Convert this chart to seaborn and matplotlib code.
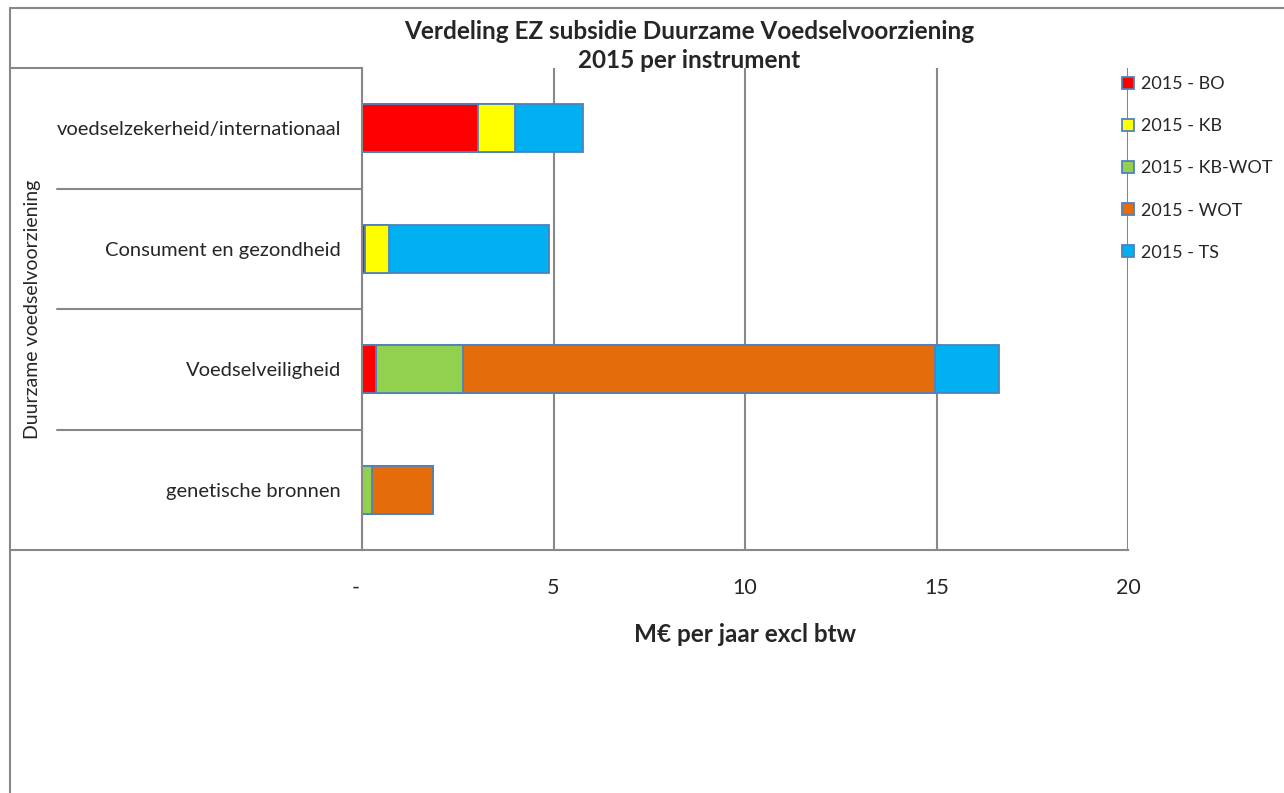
import matplotlib
matplotlib.use("Agg")
import matplotlib.pyplot as plt
import matplotlib.transforms as mtrans
import seaborn as sns
import pandas as pd
import numpy as np
from matplotlib.patches import Patch
from matplotlib.lines import Line2D

# ---- data ----
categories = ["voedselzekerheid/internationaal", "Consument en gezondheid",
              "Voedselveiligheid", "genetische bronnen"]
series_names = ["2015 - BO", "2015 - KB", "2015 - KB-WOT", "2015 - WOT", "2015 - TS"]
bo     = [3.03, 0.09, 0.37, 0.00]
kb     = [0.97, 0.61, 0.00, 0.00]
kb_wot = [0.00, 0.00, 2.27, 0.26]
wot    = [0.00, 0.00, 12.32, 1.60]
ts     = [1.77, 4.19, 1.68, 0.00]
colors = ["#FF0000", "#FFFF00", "#92D050", "#E46C0A", "#00B0F0"]
xticks = [0, 5, 10, 15, 20]
xticklabels = ["-", "5", "10", "15", "20"]

title = "Verdeling EZ subsidie Duurzame Voedselvoorziening\n2015 per instrument"
xlabel = "M\u20ac per jaar excl btw"
outer_label = "Duurzame voedselvoorziening"

df = pd.DataFrame({"cat": categories, series_names[0]: bo, series_names[1]: kb,
                   series_names[2]: kb_wot, series_names[3]: wot, series_names[4]: ts})
cum = df[series_names].cumsum(axis=1)
cum["cat"] = df["cat"]

sns.set_style("white")
plt.rcParams["font.family"] = ["Lato", "DejaVu Sans"]

W, H = 1284, 793
fig = plt.figure(figsize=(W / 100, H / 100), dpi=100)
L, R, T, B = 362, 1128, 68, 550
ax = fig.add_axes([L / W, 1 - B / H, (R - L) / W, (B - T) / H])

grid_c = "#888888"
edge_c = "#4F81BD"

# stacked bars via overlapping cumulative bars (largest first)
for i in reversed(range(len(series_names))):
    sns.barplot(data=cum, y="cat", x=series_names[i], orient="h", order=categories,
                color=colors[i], saturation=1, width=0.4, edgecolor=edge_c,
                linewidth=1.3, ax=ax, zorder=3)

ax.set_xlim(0, 20)
ax.set_ylim(3.5, -0.5)
ax.set_xticks(xticks)
ax.set_xticklabels(xticklabels, fontsize=15.5)
ax.set_xlabel(xlabel, fontsize=17.5, fontweight="bold", labelpad=18)
ax.set_ylabel("")
ax.tick_params(axis="x", length=8, width=1.5, color=grid_c, pad=12, direction="out")
ax.tick_params(axis="y", length=0, pad=15, labelsize=14.5)
ax.xaxis.grid(True, color=grid_c, linewidth=1.5)
ax.set_axisbelow(True)
for s in ["top", "right"]:
    ax.spines[s].set_visible(False)
for s in ["left", "bottom"]:
    ax.spines[s].set_color(grid_c)
    ax.spines[s].set_linewidth(1.5)
    ax.spines[s].set_zorder(4)

# shift the "-" zero label slightly left, like the accounting format
lbl0 = ax.get_xticklabels()[0]
lbl0.set_transform(lbl0.get_transform() + mtrans.ScaledTranslation(-6 / 100, 0, fig.dpi_scale_trans))

# multi-level category axis lines
tr = ax.get_yaxis_transform()
x_in = (57 - L) / (R - L)
x_out = (10 - L) / (R - L)
for yv in [0.5, 1.5, 2.5]:
    ax.add_line(Line2D([x_in, 0], [yv, yv], transform=tr, color=grid_c, lw=1.5, clip_on=False))
ax.add_line(Line2D([x_out, 0], [-0.5, -0.5], transform=tr, color=grid_c, lw=1.5, clip_on=False))
ax.add_line(Line2D([x_out, 0], [3.5, 3.5], transform=tr, color=grid_c, lw=1.5, clip_on=False))
ax.text((33 - L) / (R - L), 1.5, outer_label, transform=tr, rotation=90,
        ha="center", va="center", fontsize=14)

# outer frame (left and top)
fig.add_artist(Line2D([9.5 / W, 9.5 / W], [0, 1 - 8 / H], color=grid_c, lw=1.5))
fig.add_artist(Line2D([9.5 / W, 1], [1 - 8 / H, 1 - 8 / H], color=grid_c, lw=1.5))

fig.text(689 / W, 1 - 46 / H, title, ha="center", va="center", fontsize=17.5,
         fontweight="bold", linespacing=1.3)

handles = [Patch(facecolor=c, edgecolor=edge_c, linewidth=1.3) for c in colors]
fig.legend(handles, series_names, loc="upper left",
           bbox_to_anchor=(1122 / W, 1 - 76 / H), frameon=False,
           handlelength=0.65, handleheight=0.65, handletextpad=0.4,
           labelspacing=1.45, borderaxespad=0, borderpad=0, fontsize=13)

fig.savefig("out.png", dpi=100, facecolor="white")
